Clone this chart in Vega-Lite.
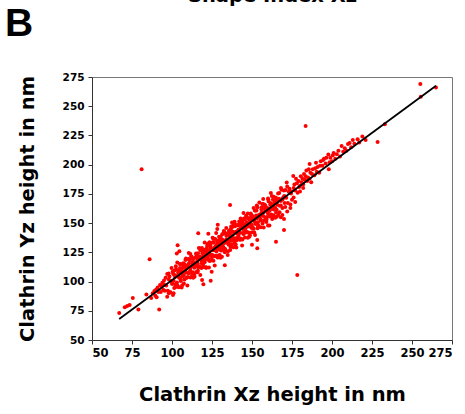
{
  "$schema": "https://vega.github.io/schema/vega-lite/v6.json",
  "autosize": {"type": "none"},
  "padding": {"left": 92, "top": 77, "right": 13, "bottom": 74},
  "width": 360,
  "height": 263,
  "background": "white",
  "title": {"text": "B", "anchor": "start", "frame": "group", "font": "Liberation Sans", "fontWeight": "bold", "fontSize": 39, "color": "black", "baseline": "alphabetic", "offset": 0, "dx": -87, "dy": 90},
  "config": {
    "view": {"stroke": "#777", "strokeWidth": 1},
    "axis": {"grid": false, "domainColor": "#333", "tickColor": "#333", "tickSize": 4, "labelOverlap": false, "labelFont": "DejaVu Sans", "labelFontWeight": "bold", "labelColor": "black", "titleFont": "DejaVu Sans", "titleFontWeight": "bold", "titleColor": "black", "titleFontSize": 19.5}
  },
  "datasets": {
    "pts": [
      {"x":67,"y":73},{"x":70.5,"y":78},{"x":72,"y":79},{"x":73.5,"y":80},{"x":75.5,"y":86},{"x":79,"y":76},{"x":84,"y":89},{"x":86,"y":119},{"x":87,"y":86},{"x":88,"y":90},{"x":89,"y":92},{"x":90,"y":93},{"x":90.4,"y":86.5},{"x":91,"y":95},{"x":92,"y":76},{"x":92.5,"y":97},{"x":93,"y":91},{"x":93.5,"y":96},{"x":94,"y":99},{"x":94.5,"y":93},{"x":95,"y":101},{"x":89.5,"y":88},{"x":91.5,"y":91},{"x":81,"y":196},
      {"x":95,"y":97.4},{"x":95.4,"y":92.2},{"x":96,"y":103.3},{"x":96.4,"y":96.7},{"x":97,"y":106.4},{"x":97.4,"y":92.1},{"x":98,"y":101.8},{"x":98.4,"y":104.3},{"x":99,"y":90.9},{"x":99.4,"y":100.4},
      {"x":100,"y":98.2},{"x":100.4,"y":108.4},{"x":101,"y":100.6},{"x":101.4,"y":105.9},{"x":102,"y":97.4},{"x":102.4,"y":113.2},{"x":103,"y":104.7},{"x":103.4,"y":96.7},{"x":104,"y":109.2},{"x":104.4,"y":103.3},
      {"x":105,"y":111.6},{"x":105.4,"y":101.5},{"x":106,"y":109.1},{"x":106.4,"y":96.9},{"x":107,"y":115.7},{"x":107.4,"y":104.9},{"x":108,"y":109},{"x":108.4,"y":118.5},{"x":109,"y":103},{"x":109.4,"y":111.8},
      {"x":110,"y":112.4},{"x":110.4,"y":107.2},{"x":111,"y":118.3},{"x":111.4,"y":111.7},{"x":112,"y":121.4},{"x":112.4,"y":107.1},{"x":113,"y":116.8},{"x":113.4,"y":119.3},{"x":114,"y":105.9},{"x":114.4,"y":115.4},
      {"x":115,"y":113.2},{"x":115.4,"y":123.4},{"x":116,"y":115.6},{"x":116.4,"y":120.9},{"x":117,"y":112.4},{"x":117.4,"y":128.2},{"x":118,"y":119.7},{"x":118.4,"y":111.7},{"x":119,"y":124.2},{"x":119.4,"y":118.3},
      {"x":120,"y":126.6},{"x":120.4,"y":116.5},{"x":121,"y":124.1},{"x":121.4,"y":111.9},{"x":122,"y":130.7},{"x":122.4,"y":119.9},{"x":123,"y":124},{"x":123.4,"y":133.5},{"x":124,"y":118},{"x":124.4,"y":126.8},
      {"x":125,"y":127.4},{"x":125.4,"y":122.2},{"x":126,"y":133.3},{"x":126.4,"y":126.7},{"x":127,"y":136.4},{"x":127.4,"y":122.1},{"x":128,"y":131.8},{"x":128.4,"y":134.3},{"x":129,"y":120.9},{"x":129.4,"y":130.4},
      {"x":130,"y":128.2},{"x":130.4,"y":138.4},{"x":131,"y":130.6},{"x":131.4,"y":135.9},{"x":132,"y":127.4},{"x":132.4,"y":143.2},{"x":133,"y":134.7},{"x":133.4,"y":126.7},{"x":134,"y":139.2},{"x":134.4,"y":133.3},
      {"x":135,"y":141.6},{"x":135.4,"y":131.5},{"x":136,"y":139.1},{"x":136.4,"y":126.9},{"x":137,"y":145.7},{"x":137.4,"y":134.9},{"x":138,"y":139},{"x":138.4,"y":148.5},{"x":139,"y":133},{"x":139.4,"y":141.8},
      {"x":140,"y":142.4},{"x":140.4,"y":137.2},{"x":141,"y":148.3},{"x":141.4,"y":141.7},{"x":142,"y":151.4},{"x":142.4,"y":137.1},{"x":143,"y":146.8},{"x":143.4,"y":149.3},{"x":144,"y":135.9},{"x":144.4,"y":145.4},
      {"x":145,"y":143.2},{"x":145.4,"y":153.4},{"x":146,"y":145.6},{"x":146.4,"y":150.9},{"x":147,"y":142.4},{"x":147.4,"y":158.2},{"x":148,"y":149.7},{"x":148.4,"y":141.7},{"x":149,"y":154.2},{"x":149.4,"y":148.3},
      {"x":150,"y":156.6},{"x":150.4,"y":146.5},{"x":151,"y":154.1},{"x":151.4,"y":141.9},{"x":152,"y":160.7},{"x":152.4,"y":149.9},{"x":153,"y":154},{"x":153.4,"y":163.5},{"x":154,"y":148},{"x":154.4,"y":156.8},
      {"x":155,"y":157.4},{"x":155.4,"y":152.2},{"x":156,"y":163.3},{"x":156.4,"y":156.7},{"x":157,"y":166.4},{"x":157.4,"y":152.1},{"x":158,"y":161.8},{"x":158.4,"y":164.3},{"x":159,"y":150.9},{"x":159.4,"y":160.4},
      {"x":160,"y":158.2},{"x":160.4,"y":168.4},{"x":161,"y":160.6},{"x":161.4,"y":165.9},{"x":162,"y":157.4},{"x":162.4,"y":173.2},{"x":163,"y":164.7},{"x":163.4,"y":156.7},{"x":164,"y":169.2},{"x":164.4,"y":163.3},
      {"x":165,"y":171.6},{"x":165.4,"y":161.5},{"x":166,"y":169.1},{"x":166.4,"y":156.9},{"x":167,"y":175.7},{"x":167.4,"y":164.9},{"x":168,"y":169},{"x":168.4,"y":178.5},{"x":169,"y":163},{"x":169.4,"y":171.8},
      {"x":170,"y":172.4},{"x":170.4,"y":167.2},{"x":171,"y":178.3},{"x":171.4,"y":171.7},{"x":172,"y":181.4},{"x":172.4,"y":167.1},{"x":173,"y":176.8},{"x":173.4,"y":179.3},{"x":174,"y":165.9},{"x":174.4,"y":175.4},
      {"x":100.2,"y":98.2},{"x":100.7,"y":106.7},{"x":101.4,"y":94.4},{"x":101.9,"y":103.9},{"x":102.6,"y":110.6},{"x":103.1,"y":99.1},{"x":103.8,"y":107.8},{"x":104.3,"y":104.3},{"x":105,"y":115},{"x":105.5,"y":100.5},
      {"x":106.2,"y":107.2},{"x":106.7,"y":111.7},{"x":107.4,"y":98.4},{"x":107.9,"y":114.9},{"x":108.6,"y":107.6},{"x":109.1,"y":112.1},{"x":109.8,"y":103.8},{"x":110.3,"y":119.3},{"x":111,"y":108},{"x":111.5,"y":123.5},
      {"x":112.2,"y":104.2},{"x":112.7,"y":115.2},{"x":113.4,"y":113.9},{"x":113.9,"y":111.9},{"x":114.6,"y":120.6},{"x":115.1,"y":108.1},{"x":115.8,"y":117.8},{"x":116.3,"y":124.3},{"x":117,"y":113},{"x":117.5,"y":121.5},
      {"x":118.2,"y":118.2},{"x":118.7,"y":128.7},{"x":119.4,"y":114.4},{"x":119.9,"y":120.9},{"x":120.6,"y":125.6},{"x":121.1,"y":112.1},{"x":121.8,"y":128.8},{"x":122.3,"y":121.3},{"x":123,"y":126},{"x":123.5,"y":117.5},
      {"x":124.2,"y":133.2},{"x":124.7,"y":121.7},{"x":125.4,"y":137.4},{"x":125.9,"y":117.9},{"x":126.6,"y":129.1},{"x":127.1,"y":127.6},{"x":127.8,"y":125.8},{"x":128.3,"y":134.3},{"x":129,"y":122},{"x":129.5,"y":131.5},
      {"x":130.2,"y":138.2},{"x":130.7,"y":126.7},{"x":131.4,"y":135.4},{"x":131.9,"y":131.9},{"x":132.6,"y":142.6},{"x":133.1,"y":128.1},{"x":133.8,"y":134.8},{"x":134.3,"y":139.3},{"x":135,"y":126},{"x":135.5,"y":142.5},
      {"x":136.2,"y":135.2},{"x":136.7,"y":139.7},{"x":137.4,"y":131.4},{"x":137.9,"y":146.9},{"x":138.6,"y":135.6},{"x":139.1,"y":151.1},{"x":139.8,"y":131.8},{"x":140.3,"y":142.8},{"x":141,"y":141.5},{"x":141.5,"y":139.5},
      {"x":142.2,"y":148.2},{"x":142.7,"y":135.7},{"x":143.4,"y":145.4},{"x":143.9,"y":151.9},{"x":144.6,"y":140.6},{"x":145.1,"y":149.1},{"x":145.8,"y":145.8},{"x":146.3,"y":156.3},{"x":147,"y":142},{"x":147.5,"y":148.5},
      {"x":148.2,"y":153.2},{"x":148.7,"y":139.7},{"x":149.4,"y":156.4},{"x":149.9,"y":148.9},{"x":150.6,"y":153.6},{"x":151.1,"y":145.1},{"x":151.8,"y":160.8},{"x":152.3,"y":149.3},{"x":153,"y":165},{"x":153.5,"y":145.5},
      {"x":154.2,"y":156.7},{"x":154.7,"y":155.2},{"x":155.4,"y":153.4},{"x":155.9,"y":161.9},{"x":156.6,"y":149.6},{"x":157.1,"y":159.1},{"x":157.8,"y":165.8},{"x":158.3,"y":154.3},{"x":159,"y":163},{"x":159.5,"y":159.5},
      {"x":160.2,"y":170.2},{"x":160.7,"y":155.7},{"x":161.4,"y":162.4},{"x":161.9,"y":166.9},{"x":162.6,"y":153.6},{"x":163.1,"y":170.1},{"x":163.8,"y":162.8},{"x":164.3,"y":167.3},{"x":165,"y":159},
      {"x":110.6,"y":115.6},{"x":111.4,"y":109.4},{"x":112.2,"y":120.2},{"x":113,"y":108},{"x":113.8,"y":115.8},{"x":114.6,"y":114.6},{"x":115.4,"y":121.4},{"x":116.2,"y":109.2},{"x":117,"y":120},{"x":117.8,"y":126.8},
      {"x":118.6,"y":115.6},{"x":119.4,"y":120.4},{"x":120.2,"y":127.2},{"x":121,"y":120},{"x":121.8,"y":125.8},{"x":122.6,"y":118.6},{"x":123.4,"y":133.4},{"x":124.2,"y":129.2},{"x":125,"y":123},{"x":125.8,"y":133.8},
      {"x":126.6,"y":121.6},{"x":127.4,"y":129.4},{"x":128.2,"y":128.2},{"x":129,"y":135},{"x":129.8,"y":122.8},{"x":130.6,"y":133.6},{"x":131.4,"y":140.4},{"x":132.2,"y":129.2},{"x":133,"y":134},{"x":133.8,"y":140.8},
      {"x":134.6,"y":133.6},{"x":135.4,"y":139.4},{"x":136.2,"y":132.2},{"x":137,"y":147},{"x":137.8,"y":142.8},{"x":138.6,"y":136.6},{"x":139.4,"y":147.4},{"x":140.2,"y":135.2},{"x":141,"y":143},{"x":141.8,"y":141.8},
      {"x":142.6,"y":148.6},{"x":143.4,"y":136.4},{"x":144.2,"y":147.2},{"x":145,"y":154},{"x":145.8,"y":142.8},{"x":146.6,"y":147.6},{"x":147.4,"y":154.4},{"x":148.2,"y":147.2},{"x":149,"y":153},{"x":149.8,"y":145.8},
      {"x":97,"y":87},{"x":97.9,"y":106.9},{"x":98.8,"y":90.8},{"x":99.7,"y":111.7},{"x":100.6,"y":88.6},{"x":101.5,"y":109.5},{"x":102.4,"y":95.4},{"x":103.3,"y":116.3},{"x":104.2,"y":95.2},{"x":105.1,"y":115.1},
      {"x":106,"y":95},{"x":106.9,"y":113.9},{"x":107.8,"y":101.8},{"x":108.7,"y":119.7},{"x":109.6,"y":96.6},{"x":110.5,"y":124.5},{"x":111.4,"y":103.4},{"x":112.3,"y":121.3},{"x":113.2,"y":103.2},{"x":114.1,"y":104.1},
      {"x":115,"y":124},{"x":115.9,"y":107.9},{"x":116.8,"y":128.8},{"x":117.7,"y":105.7},{"x":118.6,"y":126.6},{"x":119.5,"y":112.5},{"x":120.4,"y":133.4},{"x":121.3,"y":112.3},{"x":122.2,"y":132.2},{"x":123.1,"y":112.1},
      {"x":124,"y":131},{"x":124.9,"y":118.9},{"x":125.8,"y":136.8},{"x":126.7,"y":113.7},{"x":127.6,"y":141.6},{"x":128.5,"y":120.5},{"x":129.4,"y":138.4},{"x":130.3,"y":120.3},{"x":131.2,"y":121.2},{"x":132.1,"y":141.1},
      {"x":133,"y":125},{"x":133.9,"y":145.9},{"x":134.8,"y":122.8},{"x":135.7,"y":143.7},{"x":136.6,"y":129.6},{"x":137.5,"y":150.5},{"x":138.4,"y":129.4},{"x":139.3,"y":149.3},{"x":140.2,"y":129.2},{"x":141.1,"y":148.1},
      {"x":142,"y":136},{"x":142.9,"y":153.9},{"x":143.8,"y":130.8},{"x":144.7,"y":158.7},{"x":145.6,"y":137.6},{"x":146.5,"y":155.5},{"x":147.4,"y":137.4},{"x":148.3,"y":138.3},{"x":149.2,"y":158.2},{"x":150.1,"y":142.1},
      {"x":151,"y":163},{"x":151.9,"y":139.9},{"x":152.8,"y":160.8},{"x":153.7,"y":146.7},{"x":154.6,"y":167.6},{"x":155.5,"y":146.5},{"x":156.4,"y":166.4},{"x":157.3,"y":146.3},{"x":158.2,"y":165.2},{"x":159.1,"y":153.1},
      {"x":160,"y":171},{"x":160.9,"y":147.9},{"x":161.8,"y":175.8},{"x":162.7,"y":154.7},{"x":163.6,"y":172.6},{"x":164.5,"y":154.5},{"x":165.4,"y":155.4},{"x":166.3,"y":175.3},{"x":167.2,"y":159.2},{"x":168.1,"y":180.1},
      {"x":169,"y":157},{"x":169.9,"y":177.9},{"x":170.8,"y":163.8},{"x":171.7,"y":184.7},
      {"x":105.3,"y":107.3},{"x":106.4,"y":104.4},{"x":107.5,"y":112.5},{"x":108.6,"y":108.6},{"x":109.7,"y":113.7},{"x":110.8,"y":107.8},{"x":111.9,"y":112.9},{"x":113,"y":116},{"x":114.1,"y":113.1},{"x":115.2,"y":121.2},
      {"x":116.3,"y":112.3},{"x":117.4,"y":119.9},{"x":118.5,"y":119},{"x":119.6,"y":121.6},{"x":120.7,"y":118.7},{"x":121.8,"y":126.8},{"x":122.9,"y":122.9},{"x":124,"y":128},{"x":125.1,"y":122.1},{"x":126.2,"y":127.2},
      {"x":127.3,"y":130.3},{"x":128.4,"y":127.4},{"x":129.5,"y":135.5},{"x":130.6,"y":126.6},{"x":131.7,"y":134.2},{"x":132.8,"y":133.3},{"x":133.9,"y":135.9},{"x":135,"y":133},{"x":136.1,"y":141.1},{"x":137.2,"y":137.2},
      {"x":138.3,"y":142.3},{"x":139.4,"y":136.4},{"x":140.5,"y":141.5},{"x":141.6,"y":144.6},{"x":142.7,"y":141.7},{"x":143.8,"y":149.8},{"x":144.9,"y":140.9},{"x":146,"y":148.5},{"x":147.1,"y":147.6},{"x":148.2,"y":150.2},
      {"x":149.3,"y":147.3},{"x":150.4,"y":155.4},{"x":151.5,"y":151.5},{"x":152.6,"y":156.6},{"x":153.7,"y":150.7},{"x":154.8,"y":155.8},{"x":155.9,"y":158.9},{"x":157,"y":156},{"x":158.1,"y":164.1},{"x":159.2,"y":155.2},
      {"x":160.3,"y":162.8},{"x":161.4,"y":161.9},{"x":162.5,"y":164.5},{"x":163.6,"y":161.6},{"x":164.7,"y":169.7},{"x":165.8,"y":165.8},{"x":166.9,"y":170.9},{"x":168,"y":165},{"x":169.1,"y":170.1},{"x":170.2,"y":173.2},
      {"x":103.5,"y":131},{"x":103,"y":124},{"x":104.6,"y":126},{"x":101,"y":90},{"x":98,"y":90},{"x":119.6,"y":97.6},{"x":118.8,"y":101.3},{"x":124.2,"y":100.7},{"x":124.8,"y":108.4},{"x":133,"y":114},
      {"x":122.7,"y":141},{"x":128.6,"y":148.6},{"x":128.3,"y":145},{"x":116.4,"y":141.3},{"x":136.3,"y":165.5},{"x":150,"y":131.5},{"x":153.3,"y":128.4},{"x":153.3,"y":135.5},{"x":165,"y":134},{"x":170,"y":144},
      {"x":170,"y":153.5},{"x":174,"y":163},{"x":157,"y":170.6},{"x":160,"y":148},{"x":168,"y":155},{"x":172,"y":160},{"x":175,"y":170},{"x":176,"y":172},{"x":177,"y":168},{"x":174.5,"y":177},
      {"x":175.8,"y":190.3},{"x":176,"y":180},{"x":177,"y":178},{"x":178,"y":184},{"x":178.5,"y":176},{"x":179,"y":186},{"x":180,"y":182},{"x":180.5,"y":190},{"x":181,"y":185},{"x":182,"y":180},
      {"x":182.5,"y":192},{"x":183,"y":187},{"x":184,"y":195},{"x":185,"y":189},{"x":186,"y":200.5},{"x":186.5,"y":193},{"x":187,"y":185},{"x":188,"y":196},{"x":189,"y":191},{"x":190,"y":201.7},
      {"x":191,"y":198},{"x":192,"y":193},{"x":193,"y":203},{"x":194,"y":199},{"x":195,"y":205},{"x":196,"y":201},{"x":197.7,"y":208.8},{"x":198,"y":196},{"x":199,"y":206},{"x":200,"y":203},
      {"x":201,"y":210},{"x":202,"y":205},{"x":203,"y":209},{"x":204,"y":212},{"x":206,"y":216},{"x":207,"y":211},{"x":208,"y":214},{"x":210,"y":217.7},{"x":211,"y":218.5},{"x":212,"y":215},
      {"x":213,"y":221},{"x":216,"y":221.7},{"x":217,"y":219},{"x":221,"y":221},{"x":228.5,"y":219.4},{"x":233,"y":234.5},{"x":255.2,"y":269},{"x":255.5,"y":258},{"x":265,"y":266},{"x":183.5,"y":233},
      {"x":178.3,"y":105.6},
      {"x":176.5,"y":183},{"x":177.5,"y":188},{"x":179.5,"y":181},{"x":181.5,"y":188},{"x":183.5,"y":190},{"x":184.5,"y":186},{"x":185.5,"y":196},{"x":187.5,"y":192},{"x":189.5,"y":197},{"x":190.5,"y":194},
      {"x":192.5,"y":199},{"x":194.5,"y":204},{"x":196.5,"y":206},{"x":198.5,"y":202},{"x":200.5,"y":208},{"x":205,"y":207},{"x":209,"y":212},{"x":214,"y":218},{"x":219,"y":224},{"x":180,"y":177},
      {"x":182,"y":183},{"x":186,"y":188}
    ],
    "fit": [{"x": 67, "y": 68}, {"x": 265, "y": 267.5}]
  },
  "resolve": {"axis": {"x": "independent"}},
  "layer": [
    {
      "data": {"name": "pts"},
      "mark": {"type": "circle", "color": "#ff0000", "opacity": 1, "size": 16},
      "encoding": {
        "x": {"field": "x", "type": "quantitative", "scale": {"domain": [50, 275], "nice": false, "zero": false},
              "axis": {"values": [50,75,100,125,150,175,200,225,250,275], "labelOverlap": false, "labelFontSize": 11.5, "labelPadding": 3, "title": "Clathrin Xz height in nm", "titlePadding": 27}},
        "y": {"field": "y", "type": "quantitative", "scale": {"domain": [50, 275], "nice": false, "zero": false},
              "axis": {"values": [50,75,100,125,150,175,200,225,250,275], "labelOverlap": false, "labelFontSize": 10.5, "labelPadding": 4, "title": "Clathrin Yz height in nm", "titlePadding": 25}}
      }
    },
    {
      "data": {"name": "fit"},
      "mark": {"type": "line", "color": "black", "strokeWidth": 1.8},
      "encoding": {
        "x": {"field": "x", "type": "quantitative", "axis": {"orient": "top", "labels": false, "ticks": false, "domain": false, "title": "Shape Index Xz", "titlePadding": 72}},
        "y": {"field": "y", "type": "quantitative", "axis": {"values": [50,75,100,125,150,175,200,225,250,275], "labelOverlap": false, "labelFontSize": 10.5, "labelPadding": 4, "title": "Clathrin Yz height in nm", "titlePadding": 25}}
      }
    }
  ]
}
